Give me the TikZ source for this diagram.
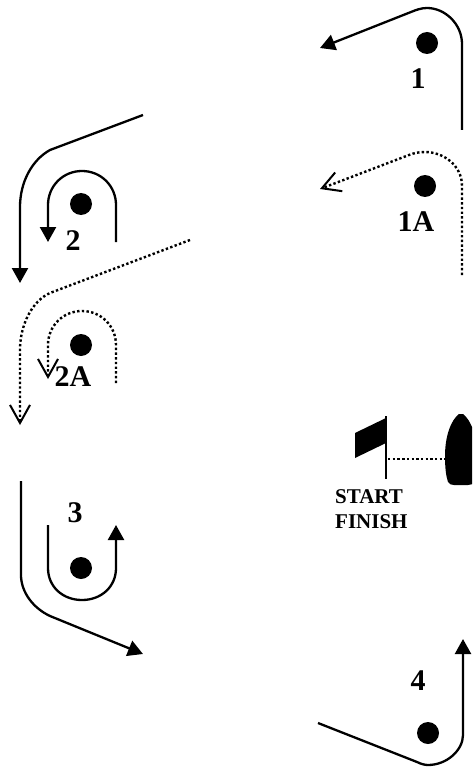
\documentclass[tikz,border=0pt]{standalone}
\usepackage{fontspec}
\setmainfont{Liberation Serif}
\usetikzlibrary{arrows.meta}
\tikzset{
  course/.style={line width=2.3pt,line join=round},
  solidtip/.style={-{Triangle[length=15pt,width=16pt]}},
  dottedcourse/.style={line width=2.4pt,dash pattern=on 2.4pt off 2.3pt},
  opentip/.style={-{Straight Barb[length=18pt,width=20pt,line width=2pt]}},
  mark dot/.style={circle,fill=black,inner sep=0pt,minimum size=22pt},
  marklabel/.style={font=\fontsize{30}{30}\selectfont\bfseries,inner sep=0pt},
  startlabel/.style={font=\fontsize{21}{21}\selectfont\bfseries,inner sep=0pt,anchor=west}
}
\begin{document}
\begin{tikzpicture}[x=1pt,y=-1pt]
\useasboundingbox (0,0) rectangle (472,767);
\clip (0,0) rectangle (472,767);
% marks
\node[mark dot] (m1) at (427,43) {};
\node[mark dot] (m1a) at (425,186) {};
\node[mark dot] (m2) at (81,204) {};
\node[mark dot] (m2a) at (81,345) {};
\node[mark dot] (m3) at (81,568) {};
\node[mark dot] (m4) at (428,733) {};
% labels
\node[marklabel] (l1) at (418,79) {1};
\node[marklabel] (l1a) at (416,222) {1A};
\node[marklabel] (l2) at (73,241) {2};
\node[marklabel] (l2a) at (73,377) {2A};
\node[marklabel] (l3) at (75,513) {3};
\node[marklabel] (l4) at (418,681) {4};
\node[startlabel] (st) at (335,497) {START};
\node[startlabel] (fi) at (335,522) {FINISH};
% course 1
\draw[course,solidtip] (462,130) -- (462,44) .. controls (462,24) and (445,8) .. (427,8)
  .. controls (421,8) and (416,10) .. (411,12) -- (320,48);
\draw[dottedcourse,opentip] (462,275) -- (462,186) .. controls (462,165) and (443,152) .. (425,152)
  .. controls (419,152) and (414,153) .. (409,155) -- (320,189);
% course 2
\draw[course,solidtip] (143,115) -- (50,150) .. controls (32,160) and (20,182) .. (20,207) -- (20,283);
\draw[course,solidtip] (116,242) -- (116,205) .. controls (116,186) and (101,171) .. (82,171)
  .. controls (63,171) and (48,186) .. (48,205) -- (48,242);
\draw[dottedcourse,opentip] (190,240) -- (50,293) .. controls (32,301) and (20,325) .. (20,350) -- (20,425);
\draw[dottedcourse,opentip] (116,383) -- (116,345) .. controls (116,326) and (101,311) .. (82,311)
  .. controls (63,311) and (48,326) .. (48,345) -- (48,379);
% course 3
\draw[course,solidtip] (21,481) -- (21,575) .. controls (21,592) and (33,608) .. (50,616) -- (143,654);
\draw[course,solidtip] (48,525) -- (48,568) .. controls (48,587) and (63,600) .. (82,600)
  .. controls (101,600) and (116,587) .. (116,568) -- (116,525);
% course 4
\draw[course,solidtip] (318,723) -- (417,762) .. controls (421,764) and (425,765) .. (428,765)
  .. controls (447,765) and (463,750) .. (463,735) -- (463,639);
% flag, pole, line, boat
\fill (386,418) -- (355,433) -- (355,458) -- (386,443) -- cycle;
\draw[line width=2.3pt] (386,416) -- (386,479);
\draw[dottedcourse] (388,459) -- (445,459);
\fill (459,414) -- (463,414) .. controls (471,420) and (477,436) .. (477,456) .. controls (477,468) and (476,476) .. (474,482)
  .. controls (473,484) and (471,485) .. (468,485) -- (454,485) .. controls (451,485) and (449,484) .. (448,482)
  .. controls (446,476) and (445,468) .. (445,456) .. controls (445,436) and (451,420) .. (459,414) -- cycle;
\end{tikzpicture}
\end{document}
